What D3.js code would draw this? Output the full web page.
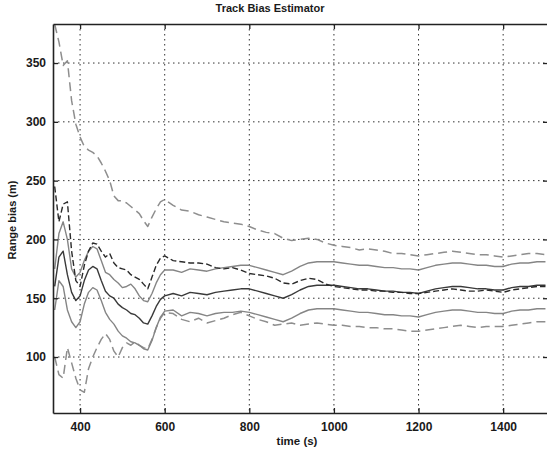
<!DOCTYPE html>
<html>
<head>
<meta charset="utf-8">
<script src="https://cdn.jsdelivr.net/npm/d3@7"></script>
<style>
html,body{margin:0;padding:0;background:#fff;}
svg{display:block;}
text{font-family:"Liberation Sans", Arial, sans-serif;fill:#1a1a1a;}
</style>
</head>
<body>
<svg id="chart" width="547" height="454"></svg>
<script>
// ---- data ----
const times = [340,350,360,370,380,390,400,410,420,430,440,450,460,470,480,490,500,510,520,530,540,550,560,570,580,590,600,
  620,640,660,680,700,720,740,760,780,800,820,840,860,880,900,920,940,960,980,1000,
  1020,1040,1060,1080,1100,1120,1140,1160,1180,1200,1220,1240,1260,1280,1300,1320,1340,1360,1380,1400,
  1420,1440,1460,1480,1500];

const upperOuterDashed = [383,368,348,352,318,298,287,279,276,274,271,265,258,250,237,233,233,231,228,225,222,216,211,219,226,232,234,
  229,225,224,221,219,217,215,214,213,211,208,206,205,201,199,200,201,200,197,195,
  194,193,191,192,191,190,188,188,187,186,187,188,189,190,189,188,187,187,186,185,
  186,187,188,188,187];

const midDashed = [245,215,230,232,190,165,160,178,190,197,196,190,185,188,180,176,175,174,170,168,166,162,158,168,178,184,186,
  182,181,180,180,179,176,175,176,174,171,170,169,167,163,162,165,167,166,162,160,
  159,158,157,157,156,156,155,155,154,154,155,156,157,158,157,156,156,157,156,155,
  157,158,159,160,160];

const upperSolid = [175,205,215,200,175,168,172,182,190,194,192,182,172,170,166,163,159,160,162,158,152,148,147,154,163,170,174,
  174,172,175,174,173,175,176,177,178,178,176,174,172,170,173,177,180,181,181,181,
  180,179,178,178,177,176,176,175,175,174,176,178,179,180,180,179,178,178,177,177,
  179,180,180,181,181];

const midSolid = [160,185,190,170,155,148,152,165,174,177,175,165,156,152,150,145,142,140,137,136,133,129,128,135,143,149,152,
  154,152,155,154,153,155,156,157,158,158,156,154,152,150,153,157,160,161,161,161,
  160,159,158,158,157,156,156,155,155,154,156,158,159,160,160,159,158,158,157,157,
  159,160,160,161,161];

const lowerSolid = [140,165,160,140,130,125,130,145,155,159,157,148,138,132,128,122,118,116,113,112,110,107,106,114,125,134,139,
  140,135,138,137,135,137,138,138,139,138,136,134,132,130,133,137,140,141,141,141,
  140,139,138,138,137,136,136,135,135,134,136,138,139,140,140,139,138,138,137,137,
  139,140,140,141,141];

const lowerOuterDashed = [100,85,82,108,95,82,72,70,90,100,108,115,120,115,105,100,108,112,110,113,110,108,107,115,125,133,138,
  137,132,130,133,129,131,133,136,138,135,132,130,127,128,129,127,128,129,128,127,
  127,126,126,125,125,124,124,123,122,122,123,124,125,126,127,126,125,126,126,126,
  127,128,129,130,130];

const xTicks = [400,600,800,1000,1200,1400];
const yTicks = [100,150,200,250,300,350];

const title = "Track Bias Estimator";
const xLabel = "time (s)";
const yLabel = "Range bias (m)";

// ---- layout ----
const L = 53, R = 548, T = 24, B = 413;
const svg = d3.select("#chart");
const x = d3.scaleLinear().domain([336, 1506]).range([L, R]);
const y = d3.scaleLinear().domain([52.4, 383.2]).range([B, T]);

svg.append("defs").append("clipPath").attr("id","clip")
  .append("rect").attr("x",L).attr("y",T).attr("width",R-L).attr("height",B-T);

// grid
const grid = svg.append("g");
grid.selectAll(".vg").data(xTicks).enter().append("line")
  .attr("x1",d=>x(d)).attr("x2",d=>x(d)).attr("y1",T).attr("y2",B)
  .attr("stroke","#333").attr("stroke-width",1).attr("stroke-dasharray","1.5,3.5");
grid.selectAll(".hg").data(yTicks).enter().append("line")
  .attr("y1",d=>y(d)).attr("y2",d=>y(d)).attr("x1",L).attr("x2",R)
  .attr("stroke","#333").attr("stroke-width",1).attr("stroke-dasharray","1.5,3.5");

// lines
const series = [
  {v: upperOuterDashed, color:"#8e8e8e", dash:"9,5", w:1.5},
  {v: lowerOuterDashed, color:"#8e8e8e", dash:"9,5", w:1.5},
  {v: upperSolid, color:"#858585", dash:null, w:1.4},
  {v: lowerSolid, color:"#858585", dash:null, w:1.4},
  {v: midSolid, color:"#3a3a3a", dash:null, w:1.4},
  {v: midDashed, color:"#2a2a2a", dash:"6,3", w:1.4}
];
const line = d3.line().x((d,i)=>x(times[i])).y(d=>y(d)).curve(d3.curveLinear);
const lg = svg.append("g").attr("clip-path","url(#clip)");
series.forEach(s=>{
  lg.append("path").datum(s.v).attr("d",line)
    .attr("fill","none").attr("stroke",s.color).attr("stroke-width",s.w)
    .attr("stroke-dasharray",s.dash).attr("stroke-linejoin","round");
});

// axes (box, inward ticks)
const fmt = d3.format("d");
const axB = svg.append("g").attr("transform",`translate(0,${B})`)
  .call(d3.axisBottom(x).tickValues(xTicks).tickSizeInner(-5).tickSizeOuter(0).tickPadding(9).tickFormat(fmt));
const axT = svg.append("g").attr("transform",`translate(0,${T})`)
  .call(d3.axisTop(x).tickValues(xTicks).tickSizeInner(-5).tickSizeOuter(0).tickFormat(""));
const axL = svg.append("g").attr("transform",`translate(${L},0)`)
  .call(d3.axisLeft(y).tickValues(yTicks).tickSizeInner(-5).tickSizeOuter(0).tickPadding(7).tickFormat(fmt));
const axR = svg.append("g").attr("transform",`translate(${R},0)`)
  .call(d3.axisRight(y).tickValues(yTicks).tickSizeInner(-5).tickSizeOuter(0).tickFormat(""));
[axB,axT,axL,axR].forEach(a=>{
  a.selectAll(".domain").attr("stroke","#222").attr("stroke-width",1.6);
  a.selectAll(".tick line").attr("stroke","#222").attr("stroke-width",1.3);
  a.selectAll("text").attr("font-size","12px").attr("font-weight","bold")
    .attr("fill","#222").attr("font-family","Liberation Sans, Arial, sans-serif");
});

// titles
svg.append("text").attr("x",270).attr("y",12).attr("text-anchor","middle")
  .attr("font-size","11px").attr("font-weight","bold").text(title);
svg.append("text").attr("x",297).attr("y",445).attr("text-anchor","middle")
  .attr("font-size","11.5px").attr("font-weight","bold").text(xLabel);
svg.append("text").attr("transform","translate(16,220) rotate(-90)").attr("text-anchor","middle")
  .attr("font-size","11px").attr("font-weight","bold").text(yLabel);
</script>
</body>
</html>
